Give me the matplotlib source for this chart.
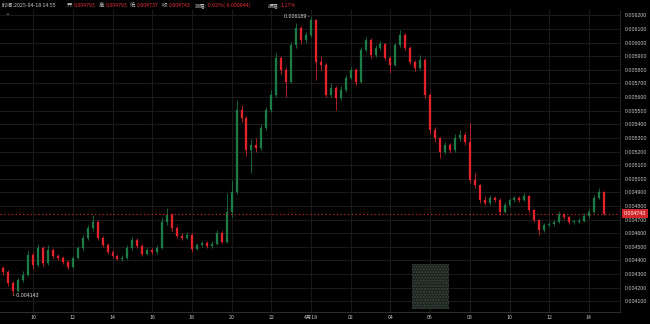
import matplotlib
matplotlib.use("Agg")
import matplotlib.pyplot as plt
import numpy as np
from matplotlib.patches import Rectangle

plt.rcParams['font.family'] = ['Noto Sans CJK SC', 'DejaVu Sans']

# ---- data (15-minute candles, Apr 17 08:30 -> Apr 18 14:45) ----
first_hour = -15.5          # hours relative to 2025-04-18 00:00
step_hours = 0.25
opens = [0.004345, 0.004315, 0.004235, 0.004176, 0.004257, 0.004294, 0.004440, 0.004367, 0.004492, 0.004381,
         0.004477, 0.004433, 0.004418, 0.004389, 0.004352, 0.004418, 0.004492, 0.004565, 0.004638, 0.004683,
         0.004565, 0.004514, 0.004462, 0.004433, 0.004411, 0.004418, 0.004492, 0.004550, 0.004506, 0.004448,
         0.004477, 0.004462, 0.004492, 0.004683, 0.004734, 0.004638, 0.004580, 0.004565, 0.004587, 0.004484,
         0.004514, 0.004528, 0.004506, 0.004521, 0.004602, 0.004536, 0.004756, 0.004903, 0.005505, 0.005446,
         0.005211, 0.005248, 0.005226, 0.005373, 0.005505, 0.005615, 0.005887, 0.005798, 0.005710, 0.005982,
         0.006107, 0.006019, 0.006055, 0.006165, 0.005857, 0.005835, 0.005615, 0.005666, 0.005593, 0.005652,
         0.005740, 0.005798, 0.005710, 0.005945, 0.006019, 0.005909, 0.005960, 0.005989, 0.005887, 0.005835,
         0.005982, 0.006055, 0.005960, 0.005857, 0.005813, 0.005872, 0.005615, 0.005358, 0.005299, 0.005196,
         0.005248, 0.005211, 0.005299, 0.005321, 0.005270, 0.004991, 0.004954, 0.004844, 0.004822, 0.004859,
         0.004844, 0.004756, 0.004807, 0.004844, 0.004859, 0.004844, 0.004873, 0.004771, 0.004697, 0.004624,
         0.004660, 0.004668, 0.004683, 0.004741, 0.004719, 0.004683, 0.004683, 0.004690, 0.004727, 0.004756,
         0.004859, 0.004903]
closes = [0.004315, 0.004235, 0.004176, 0.004257, 0.004294, 0.004440, 0.004367, 0.004492, 0.004381, 0.004477,
          0.004433, 0.004418, 0.004389, 0.004352, 0.004418, 0.004492, 0.004565, 0.004638, 0.004683, 0.004565,
          0.004514, 0.004462, 0.004433, 0.004411, 0.004418, 0.004492, 0.004550, 0.004506, 0.004448, 0.004477,
          0.004462, 0.004492, 0.004683, 0.004734, 0.004638, 0.004580, 0.004565, 0.004587, 0.004484, 0.004514,
          0.004528, 0.004506, 0.004521, 0.004602, 0.004536, 0.004756, 0.004903, 0.005505, 0.005446, 0.005211,
          0.005248, 0.005226, 0.005373, 0.005505, 0.005615, 0.005887, 0.005798, 0.005710, 0.005982, 0.006107,
          0.006019, 0.006055, 0.006165, 0.005857, 0.005835, 0.005615, 0.005666, 0.005593, 0.005652, 0.005740,
          0.005798, 0.005710, 0.005945, 0.006019, 0.005909, 0.005960, 0.005989, 0.005887, 0.005835, 0.005982,
          0.006055, 0.005960, 0.005857, 0.005813, 0.005872, 0.005615, 0.005358, 0.005299, 0.005196, 0.005248,
          0.005211, 0.005299, 0.005321, 0.005270, 0.004991, 0.004954, 0.004844, 0.004822, 0.004859, 0.004844,
          0.004756, 0.004807, 0.004844, 0.004859, 0.004844, 0.004873, 0.004771, 0.004697, 0.004624, 0.004660,
          0.004668, 0.004683, 0.004741, 0.004719, 0.004683, 0.004683, 0.004690, 0.004727, 0.004756, 0.004859,
          0.004903, 0.004743]
highs = [0.004360, 0.004330, 0.004250, 0.004270, 0.004320, 0.004470, 0.004460, 0.004520, 0.004505, 0.004510,
         0.004490, 0.004450, 0.004430, 0.004400, 0.004430, 0.004505, 0.004590, 0.004660, 0.004734, 0.004695,
         0.004580, 0.004525, 0.004475, 0.004445, 0.004440, 0.004510, 0.004575, 0.004565, 0.004520, 0.004495,
         0.004490, 0.004510, 0.004720, 0.004785, 0.004750, 0.004650, 0.004600, 0.004610, 0.004600, 0.004530,
         0.004545, 0.004540, 0.004540, 0.004625, 0.004615, 0.004895, 0.004990, 0.005578, 0.005540, 0.005460,
         0.005290, 0.005300, 0.005400, 0.005530, 0.005650, 0.005923, 0.005900, 0.005820, 0.006004, 0.006143,
         0.006120, 0.006080, 0.006189, 0.006170, 0.005900, 0.005850, 0.005700, 0.005680, 0.005680, 0.005760,
         0.005820, 0.005810, 0.005970, 0.006040, 0.006030, 0.005985, 0.006010, 0.006000, 0.005900, 0.006000,
         0.006092, 0.006070, 0.005975, 0.005870, 0.005905, 0.005885, 0.005630, 0.005380, 0.005310, 0.005270,
         0.005260, 0.005330, 0.005360, 0.005340, 0.005409, 0.005040, 0.004965, 0.004870, 0.004880, 0.004875,
         0.004855, 0.004830, 0.004860, 0.004875, 0.004870, 0.004895, 0.004880, 0.004780, 0.004705, 0.004675,
         0.004690, 0.004700, 0.004760, 0.004750, 0.004730, 0.004700, 0.004710, 0.004745, 0.004775, 0.004880,
         0.004932, 0.004910]
lows = [0.004290, 0.004215, 0.004143, 0.004165, 0.004240, 0.004285, 0.004340, 0.004355, 0.004360, 0.004370,
        0.004415, 0.004400, 0.004375, 0.004340, 0.004345, 0.004410, 0.004480, 0.004550, 0.004620, 0.004550,
        0.004500, 0.004450, 0.004420, 0.004400, 0.004395, 0.004410, 0.004480, 0.004490, 0.004435, 0.004440,
        0.004450, 0.004450, 0.004485, 0.004660, 0.004620, 0.004565, 0.004550, 0.004555, 0.004462, 0.004475,
        0.004500, 0.004495, 0.004495, 0.004510, 0.004525, 0.004530, 0.004720, 0.004890, 0.005420, 0.005170,
        0.005042, 0.005200, 0.005210, 0.005360, 0.005490, 0.005600, 0.005770, 0.005600, 0.005700, 0.005960,
        0.005990, 0.006000, 0.006040, 0.005725, 0.005800, 0.005600, 0.005600, 0.005505, 0.005580, 0.005640,
        0.005730, 0.005690, 0.005700, 0.005930, 0.005890, 0.005895, 0.005945, 0.005870, 0.005776, 0.005825,
        0.005970, 0.005945, 0.005840, 0.005790, 0.005800, 0.005590, 0.005330, 0.005270, 0.005152, 0.005180,
        0.005190, 0.005200, 0.005280, 0.005250, 0.004970, 0.004932, 0.004825, 0.004805, 0.004810, 0.004830,
        0.004735, 0.004745, 0.004795, 0.004830, 0.004830, 0.004835, 0.004755, 0.004680, 0.004587, 0.004610,
        0.004645, 0.004655, 0.004675, 0.004705, 0.004670, 0.004665, 0.004675, 0.004680, 0.004715, 0.004745,
        0.004850, 0.004737]

tick_hours = [-14, -12, -10, -8, -6, -4, -2, 0, 2, 4, 6, 8, 10, 12, 14]
tick_labels = ["10", "12", "14", "16", "18", "20", "22", "4月18", "02", "04", "06", "08", "10", "12", "14"]
price_ticks = [0.0041, 0.0042, 0.0043, 0.0044, 0.0045, 0.0046, 0.0047, 0.0048, 0.0049, 0.0050, 0.0051,
               0.0052, 0.0053, 0.0054, 0.0055, 0.0056, 0.0057, 0.0058, 0.0059, 0.0060, 0.0061, 0.0062]
last_price = 0.004743
max_price = 0.006189
min_price = 0.004143
header_items = [("时间:2025-04-18 14:55", None), ("开:", "0.004793"), ("高:", "0.004793"),
                ("低:", "0.004737"), ("收:", "0.004743"), ("涨幅:", "-0.92%(-0.000044)"), ("振幅:", "1.17%")]

# ---- figure ----
W, H = 650, 324
fig = plt.figure(figsize=(W / 100, H / 100), dpi=100, facecolor="#000000")
ax = fig.add_axes([0, (H - 312) / H, 620 / W, (312 - 10) / H], facecolor="#000000")

o = np.array(opens); c = np.array(closes); hi = np.array(highs); lo = np.array(lows)
x = first_hour + step_hours * np.arange(len(o))
up = c >= o
green = "#1b7c47"
red = "#e3232b"
cols = np.where(up, green, red)

ax.vlines(x, lo, hi, colors=cols, linewidth=0.55, zorder=3)
ax.bar(x, np.maximum(np.abs(c - o), 0.000004), bottom=np.minimum(o, c), width=0.1,
       color=cols, edgecolor=cols, linewidth=0.2, zorder=4)

ax.set_xlim(-311 / 19.85, 309 / 19.85)
ax.set_ylim(0.0062 - 296.7 * 7.342e-6, 0.0062 + 5.3 * 7.342e-6)

# grid
for t in tick_hours:
    ax.axvline(t, color="#1a1a1a", linewidth=0.8, zorder=1)
for p in price_ticks:
    ax.axhline(p, color="#1a1a1a", linewidth=0.8, zorder=1)

num_font = ["Liberation Sans", "DejaVu Sans"]
ax.set_xticks(tick_hours)
ax.set_xticklabels(tick_labels)
ax.set_yticks(price_ticks)
ax.set_yticklabels([f"{p:.6f}" for p in price_ticks], family=num_font)
ax.yaxis.tick_right()
ax.tick_params(axis="y", length=0, pad=3.2, labelsize=3.8, colors="#c8c8c8")
ax.tick_params(axis="x", length=0, pad=2.2, labelsize=3.8, colors="#c8c8c8")
for s in ("top", "left"):
    ax.spines[s].set_visible(False)
ax.spines["bottom"].set_color("#2c2c2c")
ax.spines["right"].set_color("#2c2c2c")
ax.spines["right"].set_linestyle((0, (1, 1.5)))

# current price line and label
ax.axhline(last_price, color="#c8262a", linewidth=0.8, linestyle=(0, (1.2, 2.2)), zorder=5)
ax.annotate(f"{last_price:.6f}", xy=(1.0, last_price), xycoords=("axes fraction", "data"),
            xytext=(2.6, 0), textcoords="offset points", ha="left", va="center",
            fontsize=3.8, color="white", annotation_clip=False, family=num_font,
            bbox=dict(boxstyle="square,pad=0.35", fc="#d0262c", ec="none"))

# max / min labels
imax = int(np.argmax(hi)); imin = int(np.argmin(lo))
ax.annotate(f"{max_price:.6f} -", xy=(x[imax], max_price), xytext=(-1, 0), textcoords="offset points",
            ha="right", va="center", fontsize=3.8, color="#dcdcdc", zorder=6, family=num_font)
ax.annotate(f"- {min_price:.6f}", xy=(x[imin], min_price), xytext=(0, 0), textcoords="offset points",
            ha="left", va="center", fontsize=3.8, color="#dcdcdc", zorder=6, family=num_font)

# watermark block
ax.add_patch(Rectangle((412 / 620, 3 / 302), 37 / 620, 45 / 302, transform=ax.transAxes,
                       facecolor="#1a201c", edgecolor="#3c4a40", hatch="......", linewidth=0, zorder=2))

# header
xs = [2, 67, 99, 130, 162, 195, 268]
fig.canvas.draw()
for (lab, val), px in zip(header_items, xs):
    t = fig.text(px / W, 1 - 5.5 / H, lab, fontsize=3.8, color="#c8c8c8", ha="left", va="center")
    if val is not None:
        bb = t.get_window_extent(renderer=fig.canvas.get_renderer())
        fig.text(bb.x1 / W, 1 - 5.5 / H, val, fontsize=3.8, color="#e8343a", ha="left", va="center")
fig.text(8 / W, 1 - 13 / H, "⌄", fontsize=5, color="#888888", ha="center", va="center",
         family=["DejaVu Sans"])

fig.savefig("out.png", dpi=100, facecolor="#000000")
